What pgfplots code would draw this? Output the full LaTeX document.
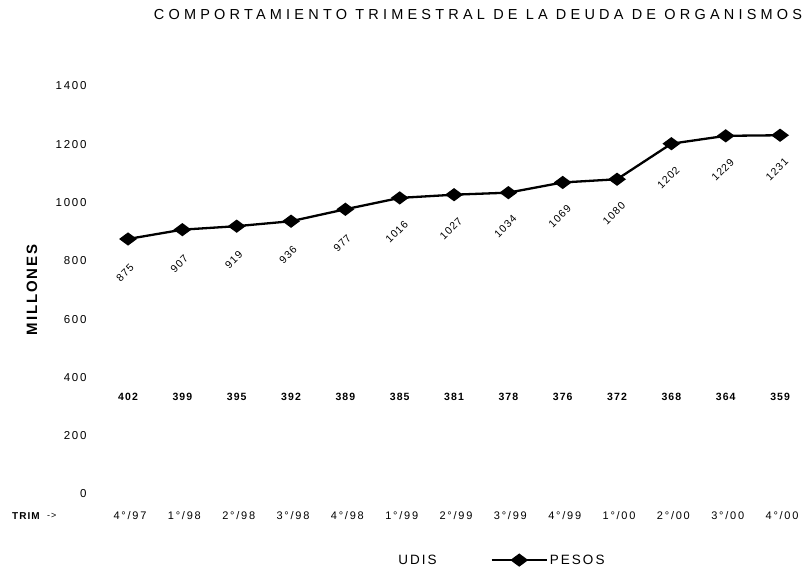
\documentclass[border=0pt]{standalone}
\usepackage{fontspec}
\setmainfont{Liberation Sans}
\usepackage{pgfplots}
\pgfplotsset{compat=1.18}
\newfontfamily\titlef[LetterSpace=29]{Liberation Sans}
\newfontfamily\ticky[LetterSpace=15]{Liberation Sans}
\newfontfamily\tickx[LetterSpace=16]{Liberation Sans}
\newfontfamily\legf[LetterSpace=15]{Liberation Sans}
\newfontfamily\ylab[LetterSpace=12]{Liberation Sans Bold}
\newfontfamily\lspaced[LetterSpace=10]{Liberation Sans}
\newfontfamily\lspacedb[LetterSpace=10]{Liberation Sans Bold}
\begin{document}
\begin{tikzpicture}
\path[use as bounding box] (0,0) rectangle (805pt,569pt);
\node[font=\titlef\fontsize{14.5}{15}\selectfont, anchor=center] at (478pt,554pt) {COMPORTAMIENTO TRIMESTRAL DE LA DEUDA DE ORGANISMOS};
\node[font=\ylab\fontsize{15}{15}\selectfont, rotate=90, anchor=center] at (32pt,279pt) {MILLONES};
\node[font=\lspacedb\fontsize{10}{10}\selectfont, anchor=west, inner sep=0pt] at (12pt,53pt) {TRIM};
\node[font=\lspaced\fontsize{9}{10}\selectfont, anchor=west, inner sep=0pt] at (47pt,53pt) {->};
\begin{axis}[
  at={(90pt,75pt)}, anchor=south west,
  scale only axis, width=714.5pt, height=408pt,
  xmin=-0.7, xmax=12.45, ymin=0, ymax=1400,
  xtick={0,...,12},
  xticklabels={4°/97,1°/98,2°/98,3°/98,4°/98,1°/99,2°/99,3°/99,4°/99,1°/00,2°/00,3°/00,4°/00},
  ytick={0,200,...,1400},
  axis line style={draw=none}, major tick length=0pt,
  /pgf/number format/assume math mode=true,
  /pgf/number format/1000 sep={},
  yticklabel style={font=\ticky\fontsize{11.5}{11}\selectfont, anchor=east, xshift=0pt},
  xticklabel style={font=\tickx\fontsize{11}{11}\selectfont, anchor=center, yshift=-22pt, xshift=2pt},
  legend columns=2,
  legend style={draw=none, fill=none, at={(0.537,-0.162)}, anchor=center,
    font=\legf\fontsize{13.5}{13.5}\selectfont,
    /tikz/every even column/.append style={column sep=52pt}},
  legend image code/.code={\draw[mark repeat=2,mark phase=2,#1] plot coordinates {(0pt,0pt) (27.5pt,0pt) (55pt,0pt)};},
]
\addplot[draw=white, mark=none, nodes near coords,
  visualization depends on={y \as \yval},
  nodes near coords style={text=black, font=\lspacedb\fontsize{10.5}{10}\selectfont, anchor=center, yshift={(333-\yval)*0.2914pt}}]
  coordinates {(0,402) (1,399) (2,395) (3,392) (4,389) (5,385) (6,381) (7,378) (8,376) (9,372) (10,368) (11,364) (12,359)};
\addlegendentry{UDIS}
\addplot[black, line width=2.3pt, mark=diamond*, mark size=5.2pt, mark options={xscale=1.8, solid}, nodes near coords,
  nodes near coords style={text=black, font=\lspaced\fontsize{10.5}{10}\selectfont, anchor=center, xshift=-3pt, yshift=-34pt, rotate=45}]
  coordinates {(0,875) (1,907) (2,919) (3,936) (4,977) (5,1016) (6,1027) (7,1034) (8,1069) (9,1080) (10,1202) (11,1229) (12,1231)};
\addlegendentry{PESOS}
\end{axis}
\end{tikzpicture}
\end{document}
